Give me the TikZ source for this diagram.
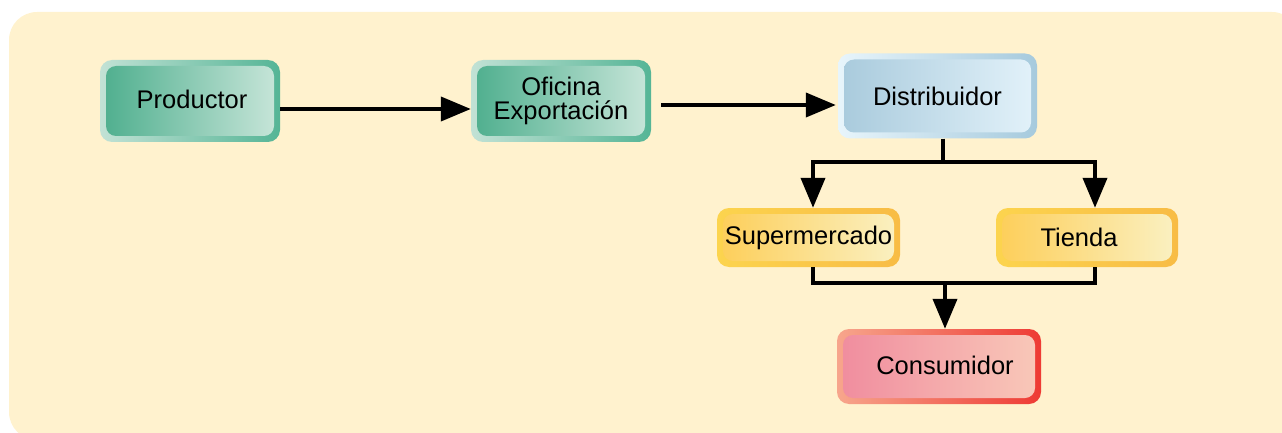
\documentclass[tikz,border=0pt]{standalone}
\usepackage{fontspec}
\setmainfont{Liberation Sans}
\usetikzlibrary{arrows.meta}
\definecolor{bgc}{HTML}{FFF2CE}
\definecolor{gOL}{HTML}{C2E2D5}\definecolor{gOR}{HTML}{55B596}
\definecolor{gIL}{HTML}{4DAE8D}\definecolor{gIR}{HTML}{C9E6DA}
\definecolor{bOL}{HTML}{E8F5FB}\definecolor{bOR}{HTML}{A6CADD}
\definecolor{bIL}{HTML}{A8CADC}\definecolor{bIR}{HTML}{E3F2FA}
\definecolor{yOL}{HTML}{FCD44E}\definecolor{yOR}{HTML}{F8BC45}
\definecolor{yIL}{HTML}{FDCE58}\definecolor{yIR}{HTML}{FAF1C3}
\definecolor{pOL}{HTML}{F7A68C}\definecolor{pOR}{HTML}{EE3A34}
\definecolor{pIL}{HTML}{F08C9E}\definecolor{pIR}{HTML}{F9C9B9}
\tikzset{
  gbox/.style n args={4}{rounded corners=12pt, left color=#1, right color=#2,
    font=\fontsize{25.5}{24}\selectfont, align=center, text=black,
    path picture={\shade[left color=#3, right color=#4, rounded corners=10pt]
      ([shift={(6pt,6pt)}]path picture bounding box.south west) rectangle
      ([shift={(-6pt,-6pt)}]path picture bounding box.north east);}},
  conn/.style={line width=4pt, draw=black},
  arr/.style={conn, -{Triangle[length=30pt,width=24pt]}},
}
\begin{document}
\begin{tikzpicture}[x=1pt,y=-1pt]
\useasboundingbox (0,0) rectangle (1282,433);
\fill[bgc, rounded corners=28pt] (9,12) rectangle (1300,440);
\node[gbox={gOL}{gOR}{gIL}{gIR}, minimum width=180pt, minimum height=82pt] (prod) at (190,101) {\hspace*{4pt}\raisebox{3pt}{Productor}};
\node[gbox={gOL}{gOR}{gIL}{gIR}, minimum width=180pt, minimum height=82pt] (ofi) at (561,101) {Oficina\\Exportación};
\node[gbox={bOL}{bOR}{bIL}{bIR}, minimum width=199pt, minimum height=85pt] (dist) at (937.5,96) {\raisebox{-2pt}{Distribuidor}};
\node[gbox={yOL}{yOR}{yIL}{yIR}, minimum width=183pt, minimum height=59pt] (super) at (808.5,237.5) {\raisebox{-1pt}{Supermercado}};
\node[gbox={yOL}{yOR}{yIL}{yIR}, minimum width=182pt, minimum height=59pt] (tienda) at (1087,237.5) {\hspace*{-16pt}Tienda};
\node[gbox={pOL}{pOR}{pIL}{pIR}, minimum width=204pt, minimum height=75pt] (cons) at (939,366.5) {\hspace*{12pt}\raisebox{2pt}{Consumidor}};
\coordinate (dj) at (943,162);
\coordinate (sj) at (945,283);
\draw[arr] (prod.east |- 0,109) -- (ofi.west |- 0,109);
\draw[arr] ([xshift=10pt]ofi.east |- 0,105) -- ([xshift=-2pt]dist.west |- 0,105);
\draw[conn] (dj |- dist.south) -- (dj);
\draw[arr] (dj) -| (813,0 |- super.north);
\draw[arr] (dj) -| (1095,0 |- tienda.north);
\draw[conn] (813,0 |- super.south) |- (sj);
\draw[conn] (1095,0 |- tienda.south) |- (sj);
\draw[arr] (sj) -- (sj |- cons.north);
\end{tikzpicture}
\end{document}
